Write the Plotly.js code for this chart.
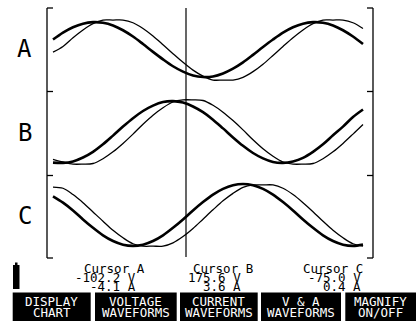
<!DOCTYPE html>
<html>
<head>
<meta charset="utf-8">
<script src="https://cdn.plot.ly/plotly-3.0.1.min.js"></script>
<style>html,body{margin:0;padding:0;background:#fff;}#chart{width:416px;height:322px;}</style>
</head>
<body>
<div id="chart"></div>
<script>
// sample index along the time axis
const samples = [0,1,2,3,4,5,6,7,8,9,10,11,12,13,14,15,16,17,18,19,20,21,22,23,24,25,26,27,28,29,30,31];
// phase A (thick / thin waveforms), display divisions
const thickA = [0.34,0.57,0.75,0.87,0.92,0.90,0.81,0.65,0.44,0.19,-0.07,-0.32,-0.55,-0.73,-0.86,-0.91,-0.89,-0.79,-0.63,-0.42,-0.17,0.09,0.34,0.57,0.75,0.87,0.92,0.90,0.81,0.65,0.44,0.19];
const thinA  = [-0.08,0.11,0.40,0.66,0.87,0.99,0.99,0.99,0.90,0.71,0.46,0.17,-0.13,-0.42,-0.68,-0.88,-1.01,-1.01,-1.01,-0.92,-0.73,-0.48,-0.19,0.11,0.40,0.66,0.87,0.99,0.99,0.99,0.90,0.71];
// phase B
const thickB = [-0.97,-0.98,-0.93,-0.80,-0.61,-0.36,-0.07,0.23,0.51,0.75,0.93,1.05,1.08,1.03,0.90,0.71,0.46,0.17,-0.13,-0.41,-0.65,-0.83,-0.95,-0.98,-0.93,-0.81,-0.61,-0.36,-0.06,0.23,0.55,0.80];
const thinB  = [-0.86,-0.95,-1.02,-1.02,-1.00,-0.84,-0.61,-0.33,-0.02,0.31,0.61,0.86,1.05,1.12,1.12,1.10,0.94,0.71,0.43,0.12,-0.21,-0.51,-0.76,-0.95,-1.02,-1.02,-1.00,-0.84,-0.61,-0.33,-0.02,0.30];
// phase C
const thickC = [0.68,0.47,0.21,-0.09,-0.37,-0.62,-0.81,-0.93,-0.97,-0.93,-0.81,-0.62,-0.37,-0.09,0.21,0.49,0.74,0.93,1.05,1.09,1.05,0.93,0.74,0.49,0.21,-0.09,-0.37,-0.62,-0.81,-0.93,-0.97,-0.93];
const thinC  = [0.99,0.95,0.74,0.47,0.16,-0.15,-0.45,-0.70,-0.90,-0.98,-0.98,-0.98,-0.87,-0.66,-0.39,-0.08,0.23,0.53,0.78,0.98,1.06,1.06,1.06,0.95,0.74,0.47,0.17,-0.15,-0.45,-0.70,-0.90,-0.98];
const cursorSample = 13.3;
const phaseLabels = ["A","B","C"];
const cursorTitles = ["Cursor A","Cursor B","Cursor C"];
const cursorVolts = ["-102.2 V","175.6 V","-75.0 V"];
const cursorAmps = ["-4.1 A","3.6 A","0.4 A"];
const buttonLine1 = ["DISPLAY","VOLTAGE","CURRENT","V &amp; A","MAGNIFY"];
const buttonLine2 = ["CHART","WAVEFORMS","WAVEFORMS","WAVEFORMS","ON/OFF"];

const W = 416, H = 322;
const px = x => x / W;
const py = y => 1 - y / H;
const FONT = "DejaVu Sans Mono";

const traces = [];
[[thinA, thickA, 'y'], [thinB, thickB, 'y2'], [thinC, thickC, 'y3']].forEach(([thin, thick, ax]) => {
  traces.push({x: samples, y: thin, yaxis: ax, xaxis: 'x', mode: 'lines', type: 'scatter',
    line: {color: '#000', width: 1.3, shape: 'spline', smoothing: 0.9}, hoverinfo: 'skip'});
  traces.push({x: samples, y: thick, yaxis: ax, xaxis: 'x', mode: 'lines', type: 'scatter',
    line: {color: '#000', width: 2.6, shape: 'spline', smoothing: 0.9}, hoverinfo: 'skip'});
});

const shapes = [];
const L = 47, R = 373, T = 8, B = 258;
const ln = (x0, y0, x1, y1, w) => ({type: 'line', xref: 'paper', yref: 'paper',
  x0: px(x0), y0: py(y0), x1: px(x1), y1: py(y1), line: {color: '#000', width: w || 1.3}});
shapes.push(ln(L, T, L, B), ln(R, T, R, B));
[T, 91.5, 175.5, B].forEach(y => { shapes.push(ln(L, y, L + 6, y), ln(R, y, R - 6, y)); });
// cursor
shapes.push({type: 'line', xref: 'x', yref: 'paper', x0: cursorSample, x1: cursorSample,
  y0: py(257), y1: py(T), line: {color: '#000', width: 1.2}});
// battery
shapes.push({type: 'rect', xref: 'paper', yref: 'paper', x0: px(13), x1: px(19.5), y0: py(289), y1: py(265),
  fillcolor: '#000', line: {width: 0}});
shapes.push({type: 'rect', xref: 'paper', yref: 'paper', x0: px(15), x1: px(17.5), y0: py(265), y1: py(262.5),
  fillcolor: '#000', line: {width: 0}});
// buttons
const btnX = [[12.7, 90.7], [95, 176.7], [180, 257.7], [261, 341], [345.3, 416]];
btnX.forEach(([a, b]) => shapes.push({type: 'rect', xref: 'paper', yref: 'paper',
  x0: px(a), x1: px(b), y0: py(321), y1: py(292.5), fillcolor: '#000', line: {width: 0}}));

const ann = [];
const txt = (text, x, y, anchor, size, color) => ann.push({text, x: px(x), y: py(y), xref: 'paper', yref: 'paper',
  xanchor: anchor, yanchor: 'middle', showarrow: false, font: {family: FONT, size, color: color || '#000'}});
[49.5, 133, 216].forEach((y, i) => txt(phaseLabels[i], 24.5, y, 'center', 24));
const titleRight = [147, 255, 365];
const valRight = [138, 243, 363];
for (let i = 0; i < 3; i++) {
  txt(cursorTitles[i], titleRight[i], 268, 'right', 12.5);
  txt(cursorVolts[i], valRight[i], 277.5, 'right', 12.5);
  txt(cursorAmps[i], valRight[i], 286.5, 'right', 12.5);
}
btnX.forEach(([a, b], i) => {
  const c = (a + b) / 2;
  txt(buttonLine1[i], c, 301.3, 'center', 12.5, '#fff');
  txt(buttonLine2[i], c, 312, 'center', 12.5, '#fff');
});

const hidden = {visible: false, fixedrange: true};
const layout = {
  width: W, height: H, margin: {l: 0, r: 0, t: 0, b: 0, pad: 0},
  paper_bgcolor: '#fff', plot_bgcolor: 'rgba(0,0,0,0)', showlegend: false,
  xaxis: Object.assign({domain: [0, 1], range: [-5.3, 36.3]}, hidden),
  yaxis: Object.assign({domain: [py(91.5), py(8)], range: [-1.3917, 1.3917], anchor: 'x'}, hidden),
  yaxis2: Object.assign({domain: [py(175.5), py(91.5)], range: [-1.4, 1.4], anchor: 'x'}, hidden),
  yaxis3: Object.assign({domain: [py(258), py(175.5)], range: [-1.375, 1.375], anchor: 'x'}, hidden),
  shapes, annotations: ann
};
Plotly.newPlot('chart', traces, layout, {staticPlot: true, displayModeBar: false});
</script>
</body>
</html>
